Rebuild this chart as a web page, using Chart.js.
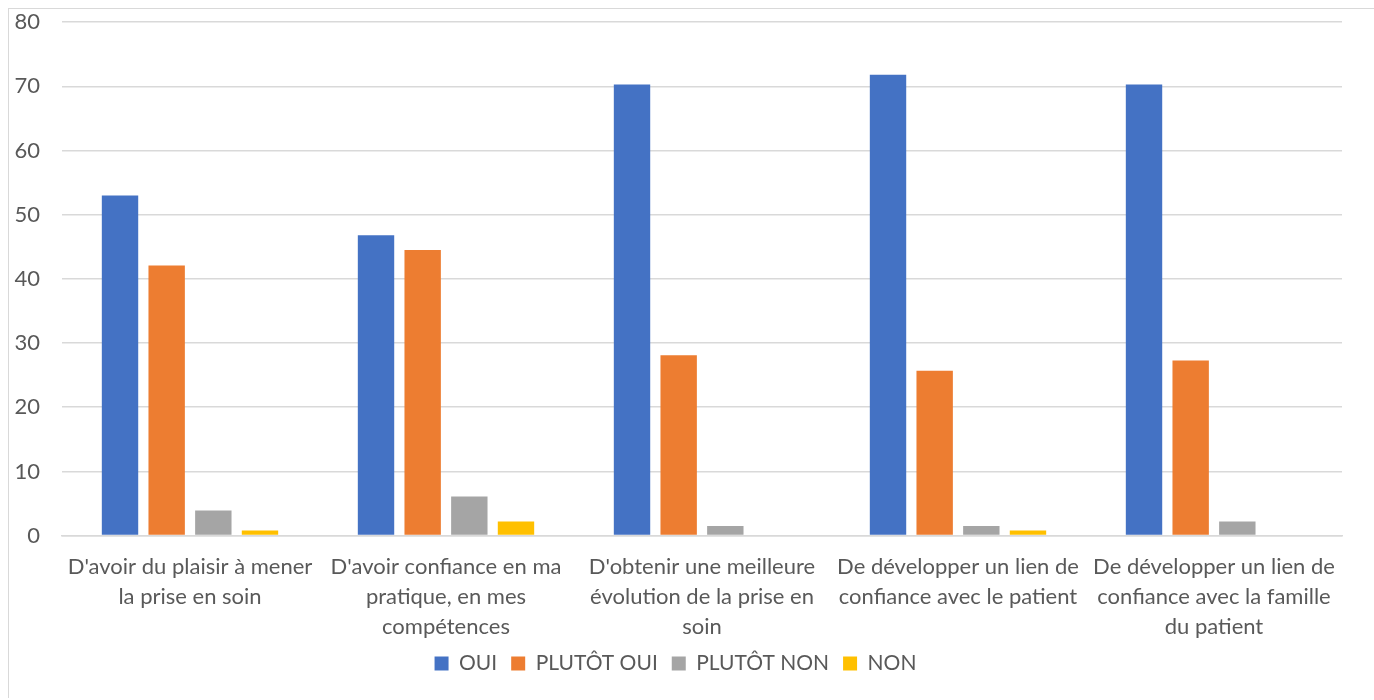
<!DOCTYPE html>
<html>
<head>
<meta charset="utf-8">
<script src="https://cdn.jsdelivr.net/npm/chart.js@4"></script>
<style>
  html, body { margin: 0; padding: 0; background: #fff; }
  #wrap {
    position: absolute; left: 8px; top: 8px;
    width: 1366px; height: 690px;
    border: 1px solid #d9d9d9; border-right: none; border-bottom: none;
    box-sizing: border-box;
  }
</style>
</head>
<body>
<div id="wrap"><canvas id="chart"></canvas></div>
<script>
// Catégories (libellés sur plusieurs lignes comme dans Excel)
const categories = [
    ["D'avoir du plaisir à mener", "la prise en soin"],
    ["D'avoir confiance en ma", "pratique, en mes", "compétences"],
    ["D'obtenir une meilleure", "évolution de la prise en", "soin"],
    ["De développer un lien de", "confiance avec le patient"],
    ["De développer un lien de", "confiance avec la famille", "du patient"]
];

const oui = [53.0, 46.8, 70.3, 71.8, 70.3];
const plutotOui = [42.1, 44.5, 28.1, 25.7, 27.3];
const plutotNon = [3.9, 6.1, 1.5, 1.5, 2.2];
const non = [0.8, 2.2, 0, 0.8, 0];

const yTicks = [0, 10, 20, 30, 40, 50, 60, 70, 80];

const textColor = '#595959';
const fontFamily = 'Lato, "Open Sans", sans-serif';

function serie(label, data, color) {
    return {
        label: label,
        data: data,
        backgroundColor: color,
        borderWidth: 0,
        categoryPercentage: 0.729,
        barPercentage: 0.78
    };
}

const ctx = document.getElementById('chart').getContext('2d');
window.myChart = new Chart(ctx, {
    type: 'bar',
    data: {
        labels: categories,
        datasets: [
            serie('OUI', oui, '#4472C4'),
            serie('PLUTÔT OUI', plutotOui, '#ED7D31'),
            serie('PLUTÔT NON', plutotNon, '#A5A5A5'),
            serie('NON', non, '#FFC000')
        ]
    },
    options: {
        responsive: true,
        maintainAspectRatio: false,
        animation: false,
        layout: { padding: { left: 0, right: 32, top: 1, bottom: 14 } },
        scales: {
            x: {
                grid: { display: false, drawTicks: false },
                border: { color: '#d9d9d9', width: 1.5 },
                afterFit: function(axis) {
                    axis.height -= 19;
                },
                ticks: {
                    color: textColor,
                    font: { family: fontFamily, size: 22, lineHeight: 1.37 },
                    maxRotation: 0,
                    autoSkip: false,
                    padding: 16
                }
            },
            y: {
                min: 0,
                max: 80,
                afterBuildTicks: function(axis) {
                    axis.ticks = yTicks.map(v => ({ value: v }));
                },
                afterFit: function(axis) {
                    axis.width = 53;
                },
                grid: {
                    color: '#d9d9d9',
                    lineWidth: 1.5,
                    drawTicks: true,
                    tickLength: 22,
                    tickColor: 'rgba(0,0,0,0)'
                },
                border: { display: false },
                ticks: {
                    color: textColor,
                    font: { family: fontFamily, size: 22 },
                    padding: 0
                }
            }
        },
        plugins: {
            legend: {
                position: 'bottom',
                labels: {
                    color: textColor,
                    font: { family: fontFamily, size: 21 },
                    boxWidth: 14,
                    boxHeight: 14,
                    padding: 14
                }
            },
            tooltip: { enabled: false }
        }
    }
});
</script>
</body>
</html>
